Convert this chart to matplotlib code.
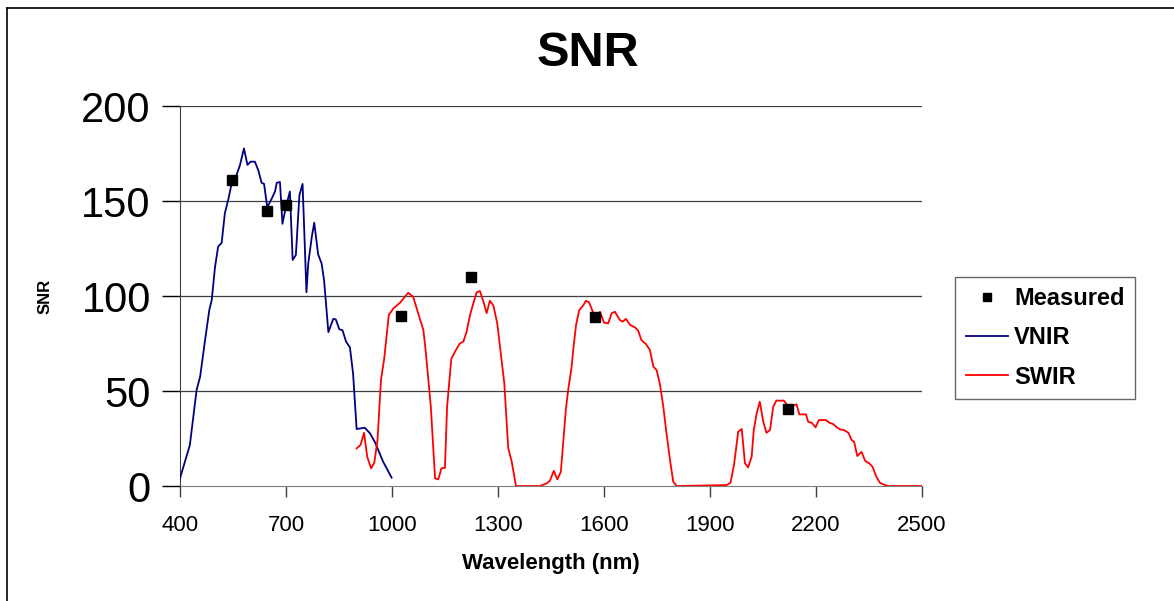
import matplotlib.pyplot as plt
from matplotlib.lines import Line2D

plt.rcParams['font.family'] = ['Liberation Sans', 'DejaVu Sans']

# VNIR curve (wavelength nm, SNR)
vnir_wl = [400, 428, 447, 457, 471, 483, 490, 499, 508, 518, 527, 537, 546, 560,
           570, 581, 591, 600, 612, 622, 631, 638, 647, 659, 669, 674, 683, 690,
           700, 711, 719, 728, 738, 747, 758, 763, 773, 780, 791, 801, 808, 820,
           834, 841, 851, 860, 870, 881, 890, 900, 923, 938, 952, 975, 999]
vnir_snr = [4, 21.6, 50.5, 57.5, 76.8, 92.6, 98, 115, 126, 128, 143.5, 151, 159, 163.7,
            169, 177.7, 169, 170.7, 170.7, 166, 159.6, 159, 146.7, 151, 155, 159.6, 160, 138,
            147, 155, 119, 121.6, 153, 159, 102, 117, 131, 138.6, 122, 117, 108, 81,
            88, 87.7, 82.5, 82, 76, 73, 59, 30, 30.7, 27.7, 23, 12.8, 4.4]

# SWIR curve
swir_wl = [900, 911, 921, 930, 941, 950, 959, 969, 978, 991, 1004, 1023, 1046, 1060,
           1074, 1089, 1096, 1110, 1122, 1131, 1140, 1150, 1156, 1168, 1181, 1192, 1202,
           1211, 1221, 1230, 1240, 1249, 1259, 1268, 1277, 1287, 1298, 1306, 1318, 1329,
           1339, 1351, 1419, 1438, 1447, 1458, 1468, 1478, 1485, 1492, 1499, 1508, 1513,
           1521, 1530, 1541, 1549, 1558, 1570, 1579, 1589, 1600, 1612, 1622, 1631, 1645,
           1653, 1662, 1674, 1688, 1697, 1706, 1719, 1730, 1740, 1749, 1758, 1768, 1777,
           1787, 1796, 1806, 1947, 1958, 1968, 1980, 1990, 1999, 2008, 2018, 2024, 2032,
           2041, 2051, 2060, 2070, 2079, 2088, 2098, 2109, 2119, 2140, 2145, 2153, 2172,
           2178, 2188, 2199, 2208, 2228, 2238, 2249, 2259, 2268, 2279, 2292, 2301, 2308,
           2317, 2329, 2339, 2351, 2360, 2370, 2381, 2395, 2405, 2500]
swir_snr = [19.8, 21.6, 28, 15.4, 9.3, 12.3, 24, 56, 67, 90, 93.5, 96.5, 101.7, 99.6,
            91, 82, 70, 41.7, 4, 3.5, 9.3, 9.6, 41.7, 67, 71.6, 75, 76,
            81, 90, 96, 102, 102.6, 97, 91, 97.5, 95, 85.6, 73, 54, 20,
            12.8, 0, 0, 1.4, 2.8, 8, 3.5, 7.5, 24, 40, 51, 62, 71.6,
            84.7, 92.6, 95, 97.5, 96.7, 91, 90, 91.7, 86, 85.6, 91, 91.7, 87.4,
            86.5, 88, 84.7, 83.5, 81.7, 76.8, 74.7, 71.6, 62.8, 61, 54, 41.7, 27.7,
            13.7, 2.3, 0, 0.5, 1.7, 11, 28.6, 30, 12, 9.8, 15.4, 29.5, 38,
            44.4, 33.8, 28, 29.5, 41.7, 45, 44.9, 45, 42.6, 42.6, 43, 37.7, 37.7,
            33.8, 33.3, 30.9, 34.7, 34.7, 33.3, 32.6, 30.9, 29.8, 29.5, 28, 24.2, 23.3,
            15.8, 18, 13.3, 11.9, 10.2, 5.3, 1.7, 0.5, 0, 0]

# measured points
meas_wl = [547, 646, 700, 1025, 1224, 1575, 2121]
meas_snr = [161, 144.7, 148, 89.5, 110, 89, 40.5]

fig = plt.figure(figsize=(11.74, 6.01), dpi=100)
ax = fig.add_axes([0.1533, 0.1913, 0.7853 - 0.1533, 0.8236 - 0.1913])

# outer frame (left and top edges visible)
fig.add_artist(Line2D([7/1174, 7/1174], [0, 1 - 8/601], transform=fig.transFigure, color='black', lw=1.2))
fig.add_artist(Line2D([7/1174, 1], [1 - 8/601, 1 - 8/601], transform=fig.transFigure, color='black', lw=1.2))

for y in [50, 100, 150, 200]:
    ax.axhline(y, color='#404040', lw=0.9, zorder=1)

ax.plot(meas_wl, meas_snr, 's', color='black', markersize=6.5, label='Measured', zorder=4)
ax.plot(vnir_wl, vnir_snr, color='#000080', lw=1.3, label='VNIR', zorder=3)
ax.plot(swir_wl, swir_snr, color='#FF0000', lw=1.3, label='SWIR', zorder=3)

ax.set_xlim(400, 2500)
ax.set_ylim(0, 200)
ax.set_xticks([400, 700, 1000, 1300, 1600, 1900, 2200, 2500])
ax.set_yticks([0, 50, 100, 150, 200])
ax.tick_params(axis='y', labelsize=30, length=13, width=1, direction='out', pad=8)
ax.tick_params(axis='x', labelsize=16, length=8, width=1, color='#404040', direction='out', pad=13)

for s in ['top', 'right']:
    ax.spines[s].set_visible(False)
ax.spines['left'].set_color('#404040')
ax.spines['bottom'].set_color('#808080')
ax.spines['bottom'].set_zorder(2)

fig.text(588/1174, 1 - 53/601, 'SNR', fontsize=35, fontweight='bold', ha='center', va='center')
ax.set_xlabel('Wavelength (nm)', fontsize=16, fontweight='bold', labelpad=12)
ax.set_ylabel('SNR', fontsize=12, fontweight='bold', labelpad=21)

leg = ax.legend(loc='center left', bbox_to_anchor=(955/1174, 1 - 338/601), bbox_transform=fig.transFigure,
                frameon=True, fancybox=False, edgecolor='#404040',
                prop={'weight': 'bold', 'size': 17}, handlelength=1.8, handletextpad=0.25,
                labelspacing=0.68, borderpad=0.45, borderaxespad=0, markerscale=0.8)
leg.get_frame().set_linewidth(1.0)

fig.savefig('out.png', dpi=100)
